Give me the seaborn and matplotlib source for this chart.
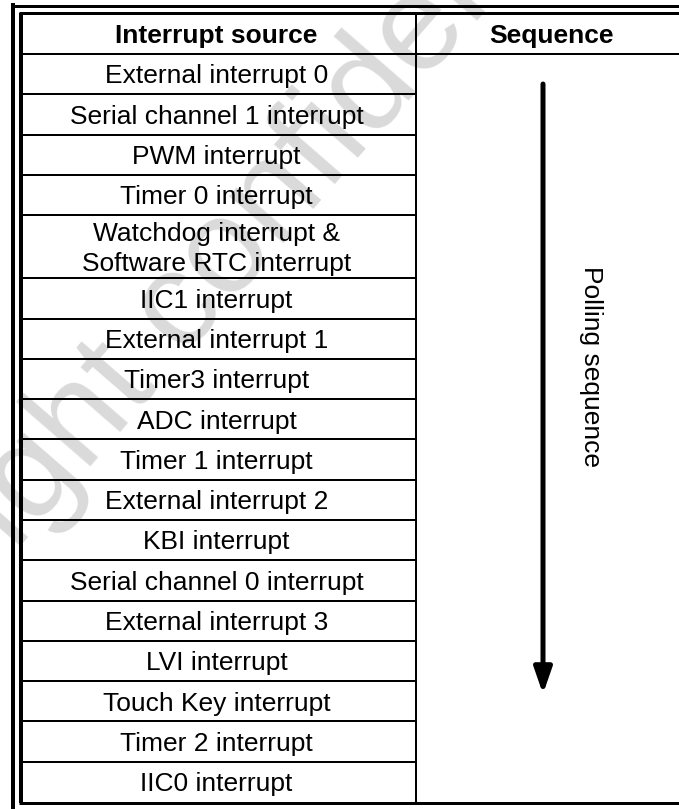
import numpy as np
import matplotlib.pyplot as plt
import seaborn as sns

sns.set_theme(style="white")
plt.rcParams['font.family'] = ['Liberation Sans', 'DejaVu Sans']
plt.rcParams['text.color'] = 'black'

# ---- table content ----
headers = ['Interrupt source', 'Sequence']
sources = [
    'External interrupt 0',
    'Serial channel 1 interrupt',
    'PWM interrupt',
    'Timer 0 interrupt',
    'Watchdog interrupt &\nSoftware RTC interrupt',
    'IIC1 interrupt',
    'External interrupt 1',
    'Timer3 interrupt',
    'ADC interrupt',
    'Timer 1 interrupt',
    'External interrupt 2',
    'KBI interrupt',
    'Serial channel 0 interrupt',
    'External interrupt 3',
    'LVI interrupt',
    'Touch Key interrupt',
    'Timer 2 interrupt',
    'IIC0 interrupt',
]
arrow_label = 'Polling sequence'
watermark = 'Copyright confidential'

# ---- layout (pixel units) ----
W, H = 679, 809
row_h, row_h2 = 40.3, 63.0
head_top, head_bot = 12.5, 54.0
col_left, col_mid, col_right = 21.0, 416.0, 686.0
px = 0.72  # one pixel in points at dpi 100

heights = np.array([row_h2 if '\n' in s else row_h for s in sources])
edges = head_bot + np.concatenate([[0], np.cumsum(heights)])
table_bot = edges[-1]

fig = plt.figure(figsize=(W / 100, H / 100), dpi=100)
ax = fig.add_axes([0, 0, 1, 1])
ax.set_xlim(0, W)
ax.set_ylim(H, 0)
ax.axis('off')

# watermark
ax.text(180, 310, watermark, fontsize=98, color='#dadada', rotation=49,
        ha='center', va='center', rotation_mode='anchor', zorder=0)

# outer frame
ax.vlines(13, 3, H + 5, color='black', lw=4 * px)
ax.hlines(5.5, 11, W + 5, color='black', lw=3 * px)
# inner frame
ax.vlines(col_left, head_top, table_bot + 1, color='black', lw=4 * px)
ax.hlines(head_top, col_left - 2, W + 5, color='black', lw=3 * px)
ax.hlines(table_bot + 1, col_left - 2, W + 5, color='black', lw=3 * px)
ax.vlines(col_mid, head_top, table_bot, color='black', lw=2 * px)
ax.hlines(head_bot, col_left, W + 5, color='black', lw=2 * px)
ax.hlines(edges[1:-1], col_left, col_mid, color='black', lw=2 * px)

# header
fs = 19.0
ax.text((col_left + col_mid) / 2 - 2, (head_top + head_bot) / 2 + 9.5, headers[0],
        fontsize=fs, fontweight='bold', ha='center', va='baseline')
ax.text((col_mid + col_right) / 2, (head_top + head_bot) / 2 + 9.5, headers[1],
        fontsize=fs, fontweight='bold', ha='center', va='baseline')

# rows
for s, top, h in zip(sources, edges[:-1], heights):
    lines = s.split('\n')
    n = len(lines)
    for i, ln in enumerate(lines):
        y = top + h / 2 + 9.3 + (i - (n - 1) / 2) * 29.5
        ax.text((col_left + col_mid) / 2 - 2, y, ln, fontsize=fs,
                ha='center', va='baseline')

# polling arrow
ax.annotate('', xy=(543, 694), xytext=(543, 84),
            arrowprops=dict(arrowstyle='-|>,head_width=0.45,head_length=1.3',
                            color='black', lw=5 * px, shrinkA=0, shrinkB=0))
ax.text(591, 367, arrow_label, fontsize=fs, rotation=-90,
        ha='center', va='center')

plt.savefig('out.png', dpi=100)
